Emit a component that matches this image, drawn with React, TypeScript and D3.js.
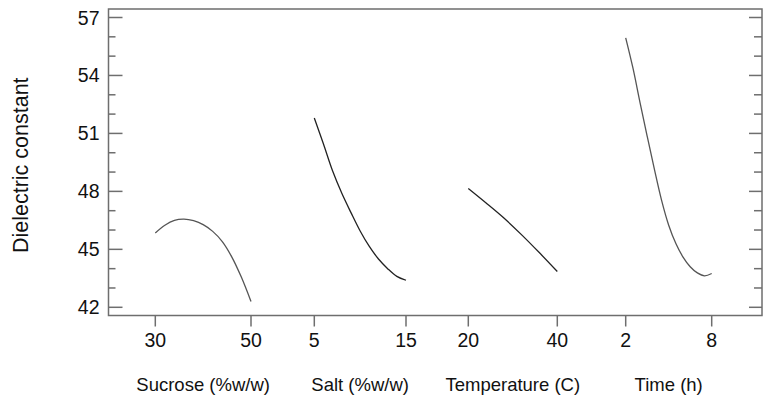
import React from 'react';
import * as d3 from 'd3';

// factor levels and predicted dielectric constant
const sucroseX = [30, 32, 34, 36, 38, 40, 42, 44, 46, 48, 50];
const sucroseY = [45.85, 46.25, 46.5, 46.56, 46.48, 46.28, 45.93, 45.4, 44.6, 43.55, 42.3];

const saltX = [5, 6, 7, 8, 9, 10, 11, 12, 13, 14, 15];
const saltY = [51.8, 50.45, 49.05, 47.9, 46.9, 45.95, 45.15, 44.5, 44.0, 43.6, 43.4];

const tempX = [20, 24, 28, 32, 36, 40];
const tempY = [48.15, 47.4, 46.62, 45.75, 44.82, 43.85];

const timeX = [2, 2.5, 3, 3.5, 4, 4.5, 5, 5.5, 6, 6.5, 7, 7.5, 8];
const timeY = [55.95, 54.4, 52.6, 50.85, 49.15, 47.55, 46.25, 45.3, 44.6, 44.1, 43.78, 43.63, 43.75];

const factorTitles = ['Sucrose (%w/w)', 'Salt (%w/w)', 'Temperature (C)', 'Time (h)'];
const factorTicks = [[30, 50], [5, 15], [20, 40], [2, 8]];
const yTicks = [42, 45, 48, 51, 54, 57];
const yMinorTicks = d3.range(42, 58);
const yTitle = 'Dielectric constant';

// pixel layout of each factor panel along the shared x axis
const panelRanges = [[155.3, 251], [314.3, 406], [468.3, 557.3], [625.7, 711.7]];

const W = 767;
const H = 403;
const frame = { left: 108.5, right: 762, top: 9, bottom: 315.5 };
const axisColor = '#6e6e6e';
const font = 'Arial, "Liberation Sans", sans-serif';

export default function App() {
  const y = d3.scaleLinear().domain([42, 57]).range([307.3, 17.5]);

  const series = [
    { xs: sucroseX, ys: sucroseY, color: '#555' },
    { xs: saltX, ys: saltY, color: '#222' },
    { xs: tempX, ys: tempY, color: '#222' },
    { xs: timeX, ys: timeY, color: '#555' },
  ];

  const panels = series.map((s, i) => {
    const x = d3.scaleLinear().domain(factorTicks[i]).range(panelRanges[i]);
    const pts = s.xs.map((v, j) => [v, s.ys[j]] as [number, number]);
    const line = d3
      .line<[number, number]>()
      .x((d) => x(d[0]))
      .y((d) => y(d[1]))
      .curve(d3.curveCatmullRom.alpha(0.5));
    return { x, path: line(pts) || '', color: s.color };
  });

  return (
    <svg
      width={W}
      height={H}
      style={{ position: 'absolute', left: 0, top: 0, background: '#fff' }}
      fontFamily={font}
    >
      <rect x={0} y={0} width={W} height={H} fill="#fff" />

      {/* y ticks, left and right, pointing inward */}
      {yMinorTicks.map((t) => {
        const major = yTicks.includes(t);
        return (
          <g key={t} stroke={axisColor} strokeWidth={1.5}>
            <line x1={frame.left} x2={frame.left + (major ? 14 : 7)} y1={y(t)} y2={y(t)} />
            <line x1={frame.right} x2={frame.right - (major ? 13 : 8)} y1={y(t)} y2={y(t)} />
          </g>
        );
      })}
      {yTicks.map((t) => (
        <text
          key={t}
          x={99.5}
          y={y(t)}
          dy="0.36em"
          textAnchor="end"
          fontSize={19.5}
          fill="#111"
        >
          {t}
        </text>
      ))}

      <text
        transform={`translate(28,${(frame.top + frame.bottom) / 2 + 3}) rotate(-90)`}
        textAnchor="middle"
        fontSize={21.5}
        fill="#111"
      >
        {yTitle}
      </text>

      {/* frame */}
      <rect
        x={frame.left}
        y={frame.top}
        width={frame.right - frame.left}
        height={frame.bottom - frame.top}
        fill="none"
        stroke={axisColor}
        strokeWidth={1.5}
      />

      {panels.map((p, i) => (
        <g key={i}>
          {factorTicks[i].map((t) => (
            <g key={t}>
              <line
                x1={p.x(t)}
                x2={p.x(t)}
                y1={frame.bottom}
                y2={frame.bottom + 11}
                stroke={axisColor}
                strokeWidth={1.5}
              />
              <text
                x={p.x(t)}
                y={347.3}
                textAnchor="middle"
                fontSize={19.5}
                fill="#111"
              >
                {t}
              </text>
            </g>
          ))}
          <text
            x={(panelRanges[i][0] + panelRanges[i][1]) / 2}
            y={391}
            textAnchor="middle"
            fontSize={18.5}
            fill="#111"
          >
            {factorTitles[i]}
          </text>
          <path d={p.path} fill="none" stroke={p.color} strokeWidth={1.3} />
        </g>
      ))}
    </svg>
  );
}
